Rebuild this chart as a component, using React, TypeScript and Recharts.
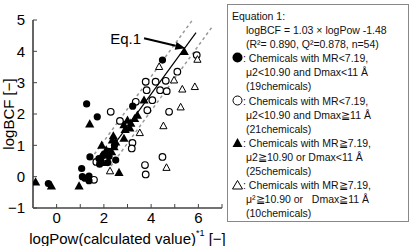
import React from "react";
import { ScatterChart, Scatter, XAxis, YAxis, ReferenceLine } from "recharts";

document.body.style.margin = "0";

// logPow (x) vs logBCF (y)
const filledCircles = [
  { x: -0.35, y: -0.22 }, { x: 1.27, y: 2.32 }, { x: 1.72, y: 1.91 }, { x: 1.41, y: 0.63 },
  { x: 1.79, y: 0.58 }, { x: 1.82, y: 0.4 }, { x: 1.06, y: 0.26 }, { x: 1.09, y: 0.0 },
  { x: 1.37, y: 0.02 }, { x: 1.37, y: -0.13 }, { x: 2.19, y: 0.81 }, { x: 2.22, y: 0.65 },
  { x: 2.17, y: 0.45 }, { x: 2.5, y: 0.53 }, { x: 3.22, y: 2.25 }, { x: 4.48, y: 3.72 },
  { x: 2.0, y: 0.7 }, { x: 2.45, y: 1.0 }, { x: 1.2, y: -0.05 },
];

const openCircles = [
  { x: 1.58, y: -0.1 }, { x: 1.68, y: 0.47 }, { x: 3.21, y: 1.08 }, { x: 3.18, y: 0.9 },
  { x: 3.74, y: 0.37 }, { x: 3.77, y: 0.07 }, { x: 4.48, y: 0.63 }, { x: 4.76, y: 2.07 },
  { x: 2.29, y: 2.07 }, { x: 3.35, y: 2.39 }, { x: 3.77, y: 3.03 }, { x: 4.19, y: 3.03 },
  { x: 4.62, y: 3.06 }, { x: 3.81, y: 2.76 }, { x: 4.38, y: 2.76 }, { x: 4.66, y: 2.73 },
  { x: 4.05, y: 2.44 }, { x: 5.93, y: 3.88 }, { x: 5.11, y: 3.35 }, { x: 2.68, y: 1.78 },
  { x: 3.0, y: 1.68 }, { x: 3.84, y: 2.12 },
];

const filledTriangles = [
  { x: -0.89, y: -0.17 }, { x: -0.22, y: -0.3 }, { x: 0.95, y: -0.3 }, { x: 1.4, y: 1.68 },
  { x: 1.91, y: 1.0 }, { x: 1.93, y: 0.69 }, { x: 2.64, y: 0.13 }, { x: 2.36, y: 1.17 },
  { x: 2.43, y: 0.95 }, { x: 2.85, y: 1.22 }, { x: 2.33, y: 0.79 }, { x: 3.42, y: 1.96 },
  { x: 3.0, y: 1.8 }, { x: 2.85, y: 1.65 }, { x: 3.14, y: 1.7 }, { x: 3.7, y: 2.44 },
  { x: 5.4, y: 3.99 }, { x: 1.86, y: 0.6 }, { x: 2.9, y: 1.5 }, { x: 2.5, y: 1.1 },
  { x: 2.1, y: 0.85 }, { x: 3.1, y: 1.55 }, { x: 1.95, y: 0.45 }, { x: 2.4, y: 1.3 },
  { x: 3.3, y: 1.85 },
];

const openTriangles = [
  { x: 2.26, y: 0.18 }, { x: 3.52, y: 1.4 }, { x: 4.52, y: 1.62 }, { x: 4.65, y: 0.29 },
  { x: 5.25, y: 2.22 }, { x: 4.34, y: 3.51 }, { x: 5.96, y: 3.74 }, { x: 4.97, y: 3.08 },
  { x: 5.32, y: 2.79 }, { x: 5.85, y: 2.87 },
];

// Eq.1 line and the two dashed bounds (end points)
const fitLine = [{ x: 1.8, y: 0.37 }, { x: 5.9, y: 4.6 }];
const upperBound = [{ x: 1.6, y: 0.72 }, { x: 5.75, y: 5.0 }];
const lowerBound = [{ x: 2.3, y: 0.34 }, { x: 6.6, y: 4.8 }];
const arrowSeg = [{ x: 3.7, y: 4.42 }, { x: 5.45, y: 4.1 }];

const xTicks = [-1, 0, 1, 2, 3, 4, 5, 6, 7];
const yTicks = [-1, 0, 1, 2, 3, 4, 5];

const legendLines = [
  { icon: "", text: "Equation 1:", indent: false },
  { icon: "", text: "logBCF = 1.03 × logPow -1.48", indent: true },
  { icon: "", text: "(R²= 0.890, Q²=0.878, n=54)", indent: true },
  { icon: "fc", text: ": Chemicals with MR<7.19,", indent: false },
  { icon: "", text: "μ2<10.90 and Dmax<11 Å", indent: true },
  { icon: "", text: "(19chemicals)", indent: true },
  { icon: "oc", text: ": Chemicals with MR<7.19,", indent: false },
  { icon: "", text: "μ2<10.90 and Dmax≧11 Å", indent: true },
  { icon: "", text: "(21chemicals)", indent: true },
  { icon: "ft", text: ": Chemicals with MR≧7.19,", indent: false },
  { icon: "", text: "μ2≧10.90 or Dmax<11 Å", indent: true },
  { icon: "", text: "(25chemicals)", indent: true },
  { icon: "ot", text: ": Chemicals with MR≧7.19,", indent: false },
  { icon: "", text: "μ²≧10.90 or   Dmax≧11 Å", indent: true },
  { icon: "", text: "(10chemicals)", indent: true },
];

const font = "'Liberation Sans', Arial, sans-serif";

const filledCircle = (p: any) => <circle cx={p.cx} cy={p.cy} r={3.6} fill="#000" />;
const openCircle = (p: any) => (
  <circle cx={p.cx} cy={p.cy} r={3.3} fill="#fff" stroke="#000" strokeWidth={1.2} />
);
const filledTri = (p: any) => (
  <polygon
    points={`${p.cx},${p.cy - 4.8} ${p.cx - 4.6},${p.cy + 3.4} ${p.cx + 4.6},${p.cy + 3.4}`}
    fill="#000"
  />
);
const openTri = (p: any) => (
  <polygon
    points={`${p.cx},${p.cy - 3.8} ${p.cx - 3.6},${p.cy + 2.8} ${p.cx + 3.6},${p.cy + 2.8}`}
    fill="#fff"
    stroke="#000"
    strokeWidth={1}
  />
);

const arrowShape = (p: any) => {
  const { x1, y1, x2, y2 } = p;
  const ang = Math.atan2(y2 - y1, x2 - x1);
  const len = 10;
  const half = 4;
  const bx = x2 - len * Math.cos(ang);
  const by = y2 - len * Math.sin(ang);
  const nx = -Math.sin(ang) * half;
  const ny = Math.cos(ang) * half;
  return (
    <g>
      <line x1={x1} y1={y1} x2={bx} y2={by} stroke="#000" strokeWidth={2} />
      <polygon points={`${x2},${y2} ${bx + nx},${by + ny} ${bx - nx},${by - ny}`} fill="#000" />
      <text x={x1 - 3} y={y1} textAnchor="end" dominantBaseline="central" fontSize={15} fontFamily={font}>
        Eq.1
      </text>
    </g>
  );
};

const XLabel = (props: any) => {
  const vb = props.viewBox;
  return (
    <text x={vb.x + vb.width / 2} y={238} textAnchor="middle" dominantBaseline="central" fontSize={15} fontFamily={font}>
      logPow(calculated value)
      <tspan fontSize={9} dy={-5}>*1</tspan>
      <tspan dy={5}>{"  [−]"}</tspan>
    </text>
  );
};

const YLabel = (props: any) => {
  const vb = props.viewBox;
  const cy = vb.y + vb.height / 2;
  return (
    <text x={8} y={cy} transform={`rotate(-90 8 ${cy})`} textAnchor="middle" dominantBaseline="central" fontSize={15} fontFamily={font}>
      logBCF [−]
    </text>
  );
};

const LegendIcon = ({ kind }: { kind: string }) => {
  if (!kind) return null;
  return (
    <svg width={11} height={11} style={{ verticalAlign: "-1px" }}>
      {kind === "fc" && <circle cx={5.5} cy={5.5} r={5} fill="#000" />}
      {kind === "oc" && <circle cx={5.5} cy={5.5} r={4.5} fill="#fff" stroke="#000" strokeWidth={1} />}
      {kind === "ft" && <polygon points="5.5,1 10.5,10 0.5,10" fill="#000" />}
      {kind === "ot" && <polygon points="5.5,1.5 10.5,10 0.5,10" fill="#fff" stroke="#000" strokeWidth={1} />}
    </svg>
  );
};

export default function App() {
  return (
    <div style={{ position: "relative", width: 411, height: 246, background: "#fff", fontFamily: font }}>
      <ScatterChart width={411} height={246} margin={{ top: 20, right: 189, bottom: 8, left: 8 }}>
        <XAxis
          dataKey="x"
          type="number"
          domain={[-1, 7]}
          ticks={xTicks}
          tickFormatter={(v: number) => (v % 2 === 0 ? String(v) : "")}
          height={30}
          tickSize={-4}
          tickMargin={8}
          axisLine={{ stroke: "#444", strokeWidth: 1.5 }}
          tickLine={{ stroke: "#444" }}
          tick={{ fill: "#000", fontSize: 15, fontFamily: font }}
          label={<XLabel />}
          allowDataOverflow
        />
        <YAxis
          dataKey="y"
          type="number"
          domain={[-1, 5]}
          ticks={yTicks}
          tickFormatter={(v: number) => (v < 0 ? "−" + Math.abs(v) : String(v))}
          width={25}
          tickSize={-4}
          tickMargin={12}
          axisLine={{ stroke: "#666", strokeWidth: 2 }}
          tickLine={{ stroke: "#444" }}
          tick={{ fill: "#000", fontSize: 15, fontFamily: font }}
          label={<YLabel />}
          allowDataOverflow
        />
        <ReferenceLine segment={upperBound} stroke="#999" strokeWidth={1.5} strokeDasharray="3 3" />
        <ReferenceLine segment={lowerBound} stroke="#999" strokeWidth={1.5} strokeDasharray="3 3" />
        <ReferenceLine segment={fitLine} stroke="#000" strokeWidth={1.2} />
        <Scatter data={openCircles} shape={openCircle} isAnimationActive={false} />
        <Scatter data={openTriangles} shape={openTri} isAnimationActive={false} />
        <Scatter data={filledCircles} shape={filledCircle} isAnimationActive={false} />
        <Scatter data={filledTriangles} shape={filledTri} isAnimationActive={false} />
        <ReferenceLine segment={arrowSeg} shape={arrowShape} ifOverflow="visible" />
      </ScatterChart>
      <div
        style={{
          position: "absolute",
          left: 227,
          top: 4,
          width: 182,
          height: 218,
          border: "1px solid #888",
          boxSizing: "border-box",
          padding: "4px 0 0 4px",
          fontSize: 10.5,
          lineHeight: "14.1px",
          color: "#111",
          whiteSpace: "pre",
          overflow: "hidden",
        }}
      >
        {legendLines.map((l, i) => (
          <div key={i} style={{ paddingLeft: l.indent ? 14 : 0 }}>
            <LegendIcon kind={l.icon} />
            {l.text}
          </div>
        ))}
      </div>
    </div>
  );
}
